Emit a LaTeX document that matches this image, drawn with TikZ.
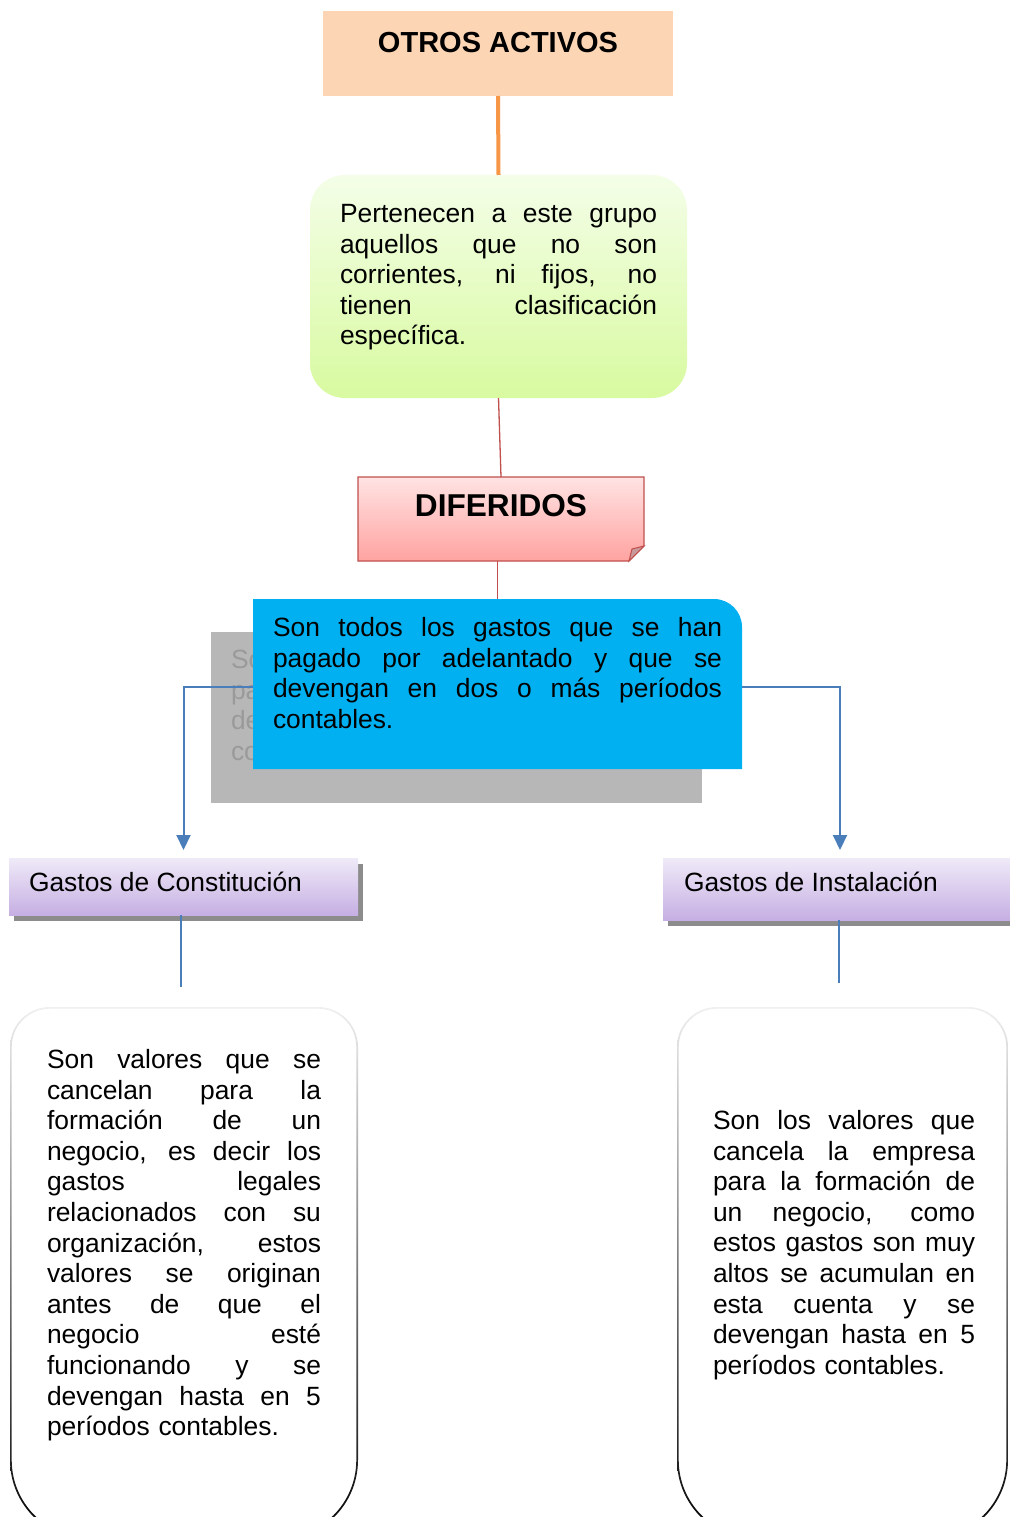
\documentclass[tikz,border=0pt]{standalone}
\usepackage{fontspec}
\setmainfont{Liberation Sans}
\usetikzlibrary{arrows.meta,shadows}
\definecolor{peach}{HTML}{FCD5B5}
\definecolor{orangeln}{HTML}{F79646}
\definecolor{redln}{HTML}{C0504D}
\definecolor{bluefill}{HTML}{00B0F0}
\definecolor{blueln}{HTML}{4A7EBB}
\definecolor{shadowgray}{HTML}{B7B7B7}
\definecolor{shadowtext}{HTML}{9A9A9A}
\definecolor{greentop}{HTML}{F4FEE8}
\definecolor{greenbot}{HTML}{D8FAA0}
\definecolor{pinktop}{HTML}{FFE3E3}
\definecolor{pinkbot}{HTML}{FFA3A1}
\definecolor{foldcol}{HTML}{C99A9A}
\definecolor{purptop}{HTML}{EFEAF8}
\definecolor{purpbot}{HTML}{C6AFE3}
\definecolor{purpshadow}{HTML}{8C8C8C}
\newcommand{\jw}{100pt}
\newcommand{\jl}[1]{\leavevmode\hbox to \jw{\spaceskip=0pt plus 1fil\relax #1}}
\newcommand{\bodyfont}{\fontsize{26.4}{30.6}\selectfont}
\newcommand{\bbpath}[6]{(#1,#3+#5) -- (#1,#4-#6) arc[start angle=180,end angle=90,radius=#6] -- (#2-#6,#4) arc[start angle=90,end angle=0,radius=#6] -- (#2,#3+#5) arc[start angle=0,end angle=-90,radius=#5] -- (#1+#5,#3) arc[start angle=270,end angle=180,radius=#5] -- cycle}
\begin{document}
\begin{tikzpicture}[x=1pt,y=-1pt,
  sz/.style 2 args={minimum width=#1,minimum height=#2,inner sep=0,outer sep=0},
  txt/.style={inner sep=0,outer sep=0,align=left,font=\bodyfont},
  purp/.style={top color=purptop,bottom color=purpbot,
    drop shadow={shadow xshift=5pt,shadow yshift=-6pt,fill=purpshadow,opacity=1}},
  blueconn/.style={blueln,line width=2,-{Triangle[length=15pt,width=14pt]},shorten >=8pt},
  thinblue/.style={blueln,line width=1.3},
  redconn/.style={redln,line width=1.3}]
\useasboundingbox (0,0) rectangle (1009,1517);
\fill[white] (0,0) rectangle (1009,1517);

% OTROS ACTIVOS
\node[sz={350}{85},fill=peach] (oa) at (498,53.5) {};
\node[anchor=base,inner sep=0,font=\bfseries\fontsize{29}{34}\selectfont] (oat) at (498,52.7) {OTROS ACTIVOS};

% green box
\node[sz={377}{223},rounded corners=35,top color=greentop,bottom color=greenbot] (gr) at (498.5,286.5) {};
\node[txt,text width=317,anchor=base west] (grt) at (340,222.5)
{\renewcommand{\jw}{317pt}%
\jl{Pertenecen a este grupo}\\
\jl{aquellos que no son}\\
\jl{corrientes, ni fijos, no}\\
\jl{tienen clasificación}\\
específica.};

% DIFERIDOS
\node[sz={286}{84}] (df) at (501,519) {};
\shade[draw=redln,line width=1.3,top color=pinktop,bottom color=pinkbot]
  (df.north west) -- (df.north east) -- ([yshift=15]df.south east) -- ([xshift=-15]df.south east) -- (df.south west) -- cycle;
\filldraw[draw=redln,line width=1,fill=foldcol]
  ([yshift=15]df.south east) -- ([xshift=-12,yshift=12]df.south east) -- ([xshift=-15]df.south east) -- cycle;
\node[anchor=base,inner sep=0,font=\bfseries\fontsize{31.6}{36}\selectfont] (dft) at (501,516.7) {DIFERIDOS};

% gray shadow box
\node[sz={491}{171},fill=shadowgray] (shd) at (456.5,717.5) {};
\node[txt,text width=449,anchor=base west,text=shadowtext] (shdt) at (231,668.5)
{\renewcommand{\jw}{449pt}%
\jl{Son todos los gastos que se han}\\
\jl{pagado por adelantado y que se}\\
\jl{devengan en dos o más períodos}\\
contables.};

% blue box
\node[sz={489}{170}] (def) at (497.5,684) {};
\fill[bluefill] (def.south west) -- (def.north west) -- ([xshift=-28]def.north east)
  arc[start angle=-90,end angle=0,radius=28] -- (def.south east) -- cycle;
\node[txt,text width=449,anchor=base west] (deft) at (273,636.5)
{\renewcommand{\jw}{449pt}%
\jl{Son todos los gastos que se han}\\
\jl{pagado por adelantado y que se}\\
\jl{devengan en dos o más períodos}\\
contables.};

% purple boxes
\node[sz={349}{57},purp] (gc) at (183.5,886.5) {};
\node[txt,anchor=base west] (gct) at (29,891.7) {Gastos de Constitución};
\node[sz={354}{62},purp] (gi) at (840,889) {};
\node[txt,anchor=base west] (git) at (684,891.7) {Gastos de Instalación};

% bottom boxes
\node[sz={348}{533}] (cb) at (184,1273.5) {};
\fill[white] \bbpath{10}{358}{1007}{1540}{40}{80};
\shade[even odd rule,top color=gray!12,middle color=gray!75,bottom color=black]
  \bbpath{10}{358}{1007}{1540}{40}{80} \bbpath{11.7}{356.3}{1008.7}{1538.3}{38.3}{78.3};
\node[txt,text width=274,anchor=base west] (cbt) at (47,1068.5)
{\renewcommand{\jw}{274pt}%
\jl{Son valores que se}\\
\jl{cancelan para la}\\
\jl{formación de un}\\
\jl{negocio, es decir los}\\
\jl{gastos legales}\\
\jl{relacionados con su}\\
\jl{organización, estos}\\
\jl{valores se originan}\\
\jl{antes de que el}\\
\jl{negocio esté}\\
\jl{funcionando y se}\\
\jl{devengan hasta en 5}\\
períodos contables.};

\node[sz={331}{533}] (ib) at (842.5,1273.5) {};
\fill[white] \bbpath{677}{1008}{1007}{1540}{40}{80};
\shade[even odd rule,top color=gray!12,middle color=gray!75,bottom color=black]
  \bbpath{677}{1008}{1007}{1540}{40}{80} \bbpath{678.7}{1006.3}{1008.7}{1538.3}{38.3}{78.3};
\node[txt,text width=262,anchor=base west] (ibt) at (713,1129.5)
{\renewcommand{\jw}{262pt}%
\jl{Son los valores que}\\
\jl{cancela la empresa}\\
\jl{para la formación de}\\
\jl{un negocio, como}\\
\jl{estos gastos son muy}\\
\jl{altos se acumulan en}\\
\jl{esta cuenta y se}\\
\jl{devengan hasta en 5}\\
períodos contables.};

% connectors
\draw[orangeln,line width=4] (oa.south) -- (gr.north);
\draw[redconn] (gr.south) -- (df.north);
\draw[redconn] (def.north |- df.south) -- (def.north);
\draw[blueconn] ([yshift=-3]def.west) -| (gc.north);
\draw[blueconn] ([yshift=-3]def.east) -| (gi.north);
\coordinate (gcend) at (181,987);
\coordinate (giend) at (839,983);
\draw[thinblue] (gc.south -| gcend) -- (gcend);
\draw[thinblue] (gi.south -| giend) -- (giend);
\end{tikzpicture}
\end{document}
